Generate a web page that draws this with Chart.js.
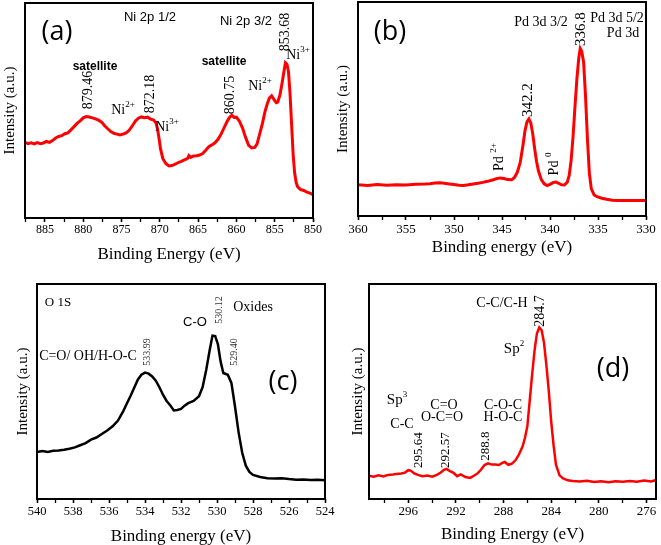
<!DOCTYPE html>
<html>
<head>
<meta charset="utf-8">
<script src="https://cdn.jsdelivr.net/npm/chart.js@4.4.0/dist/chart.umd.min.js"></script>
<style>
  body { margin: 0; background: #fff; }
  #fig { position: relative; width: 661px; height: 545px; overflow: hidden; }
  canvas { position: absolute; }
</style>
</head>
<body>
<div id="fig">
  <canvas id="pa" width="330" height="270" style="left:0;top:0"></canvas>
  <canvas id="pb" width="331" height="270" style="left:330px;top:0"></canvas>
  <canvas id="pc" width="345" height="275" style="left:0;top:270px"></canvas>
  <canvas id="pd" width="331" height="275" style="left:330px;top:270px"></canvas>
</div>
<script>
// (a) Ni 2p
const niEnergy = [887.6, 887.2, 886.8, 886.4, 886.0, 885.6, 885.2, 884.8, 884.4, 884.0, 883.6, 883.2, 882.8, 882.4, 882.0,
  881.6, 881.2, 880.8, 880.4, 880.0, 879.6, 879.2, 878.8, 878.4, 878.0, 877.6, 877.2, 876.8, 876.4, 876.0, 875.6, 875.2,
  874.8, 874.4, 874.0, 873.6, 873.2, 872.8, 872.4, 872.0, 871.6, 871.2, 870.8, 870.5, 870.3, 870.1, 869.9, 869.6, 869.2,
  868.8, 868.4, 868.0, 867.6, 867.2, 866.8, 866.4, 866.2, 866.0, 865.6, 865.2, 864.8, 864.4, 864.0, 863.6, 863.2, 862.8,
  862.4, 862.0, 861.6, 861.2, 860.9, 860.6, 860.3, 860.0, 859.6, 859.2, 858.8, 858.4, 858.0, 857.6, 857.3, 857.0, 856.6,
  856.3, 856.0, 855.7, 855.4, 855.1, 854.8, 854.6, 854.3, 854.0, 853.8, 853.6, 853.4, 853.2, 853.0, 852.8, 852.6, 852.4,
  852.2, 852.0, 851.6, 851.2, 850.8, 850.4, 850.0];
const niIntensity = [35.2, 34.6, 35.0, 34.5, 35.1, 34.6, 34.9, 35.6, 35.2, 36.0, 37.2, 37.9, 38.3, 39.2, 39.6,
  41.0, 42.5, 44.0, 45.2, 46.6, 47.2, 47.0, 46.6, 46.1, 45.5, 44.6, 42.9, 41.5, 40.2, 39.4, 39.0, 38.6,
  39.0, 39.6, 40.8, 42.8, 45.0, 46.4, 47.0, 46.6, 46.9, 46.0, 45.6, 44.2, 41.5, 37.0, 32.0, 27.6, 25.2,
  24.2, 24.4, 25.0, 25.8, 26.3, 27.0, 27.6, 29.0, 28.2, 28.8, 29.0, 29.3, 30.0, 31.5, 33.2, 34.0, 35.0,
  36.6, 39.0, 42.0, 45.0, 46.8, 47.8, 46.8, 46.9, 45.0, 41.8, 37.5, 33.8, 32.6, 32.8, 34.5, 38.5, 44.0,
  49.0, 52.8, 55.8, 56.8, 55.2, 53.6, 53.9, 57.5, 63.5, 68.0, 72.2, 71.5, 68.0, 58.0, 44.0, 30.0, 21.0,
  16.5, 14.5, 13.2, 12.8, 12.0, 11.6, 10.8];
const niTickLabels = [885, 880, 875, 870, 865, 860, 855, 850];

// (b) Pd 3d
const pdEnergy = [360.0, 359.0, 358.0, 357.0, 356.0, 355.0, 354.0, 353.0, 352.5, 352.0, 351.5, 351.0, 350.5, 350.0,
  349.5, 349.0, 348.5, 348.0, 347.5, 347.0, 346.5, 346.0, 345.6, 345.2, 344.8, 344.4, 344.0, 343.7, 343.4, 343.1,
  342.8, 342.6, 342.4, 342.2, 342.0, 341.8, 341.6, 341.4, 341.2, 340.9, 340.6, 340.3, 340.0, 339.7, 339.4, 339.1,
  338.8, 338.5, 338.2, 338.0, 337.8, 337.6, 337.4, 337.2, 337.0, 336.85, 336.7, 336.5, 336.3, 336.1, 335.9, 335.7,
  335.4, 335.1, 334.6, 334.1, 333.5, 333.0, 332.0, 331.0, 330.0];
const pdIntensity = [14.6, 14.3, 14.7, 14.4, 14.6, 14.5, 14.8, 14.9, 15.1, 15.4, 15.5, 15.3, 15.0, 14.7,
  14.4, 14.3, 14.6, 15.0, 15.3, 15.7, 16.2, 16.8, 17.4, 17.8, 17.5, 17.0, 16.9, 18.0, 20.5, 25.0,
  33.5, 40.0, 44.0, 45.3, 43.5, 38.5, 31.5, 25.5, 21.0, 17.0, 15.0, 14.2, 14.8, 15.6, 15.9, 15.3,
  14.6, 14.5, 15.8, 19.0, 26.0, 37.0, 51.0, 64.0, 74.0, 78.3, 77.0, 72.0, 56.0, 36.0, 20.0, 12.8,
  9.8, 9.0, 8.3, 7.8, 7.4, 7.2, 7.3, 7.2, 7.2];
const pdTickLabels = [360, 355, 350, 345, 340, 335, 330];

// (c) O 1s
const oEnergy = [540.0, 539.7, 539.4, 539.1, 538.8, 538.5, 538.2, 537.9, 537.6, 537.3, 537.0, 536.7, 536.4, 536.1,
  535.8, 535.5, 535.2, 535.0, 534.8, 534.6, 534.4, 534.2, 534.0, 533.8, 533.6, 533.4, 533.2, 533.0, 532.8, 532.6,
  532.4, 532.2, 532.0, 531.8, 531.6, 531.3, 531.0, 530.8, 530.6, 530.4, 530.25, 530.1, 529.95, 529.8, 529.65, 529.4,
  529.2, 529.0, 528.8, 528.6, 528.4, 528.2, 528.0, 527.6, 527.2, 526.8, 526.4, 526.0, 525.6, 525.2, 524.8, 524.4, 524.0];
const oIntensity = [21.8, 22.3, 21.9, 22.4, 22.6, 22.9, 23.4, 24.0, 25.0, 26.0, 27.6, 28.6, 30.2, 31.9,
  33.8, 36.5, 41.0, 44.5, 48.0, 51.8, 55.5, 57.8, 58.8, 58.3, 57.0, 55.0, 52.0, 48.5, 45.6, 43.6,
  41.2, 41.4, 41.9, 43.4, 44.6, 45.6, 47.8, 52.0, 60.0, 69.5, 76.0, 75.8, 72.0, 64.0, 58.6, 57.8,
  54.0, 43.0, 31.0, 21.5, 15.5, 12.6, 11.2, 10.2, 9.7, 9.5, 9.7, 9.3, 9.0, 9.1, 8.8, 9.0, 8.7];
const oTickLabels = [540, 538, 536, 534, 532, 530, 528, 526, 524];

// (d) C 1s
const cEnergy = [299.3, 298.9, 298.5, 298.1, 297.7, 297.3, 297.0, 296.6, 296.3, 296.0, 295.8, 295.5, 295.2, 294.8,
  294.4, 294.0, 293.6, 293.3, 293.0, 292.8, 292.5, 292.2, 291.9, 291.6, 291.2, 290.8, 290.5, 290.2, 289.9, 289.6,
  289.3, 289.0, 288.7, 288.4, 288.1, 287.9, 287.6, 287.3, 287.0, 286.7, 286.4, 286.2, 286.0, 285.8, 285.6, 285.4,
  285.2, 285.0, 284.8, 284.6, 284.4, 284.2, 284.0, 283.8, 283.6, 283.3, 283.0, 282.6, 282.2, 281.6, 281.0, 280.4,
  279.8, 279.2, 278.6, 278.0, 277.4, 276.8, 276.2, 275.6, 275.2];
const cIntensity = [10.8, 10.4, 11.0, 10.5, 11.2, 11.4, 11.6, 11.9, 12.2, 13.4, 13.2, 11.9, 11.2, 10.6,
  10.9, 10.4, 11.2, 12.2, 13.6, 14.0, 13.0, 12.2, 10.6, 11.4, 10.2, 9.8, 10.8, 11.8, 13.6, 15.8,
  16.6, 16.0, 16.0, 15.8, 16.8, 17.2, 15.9, 16.4, 18.0, 20.8, 24.5, 28.5, 34.0, 46.0, 58.0, 69.0,
  77.0, 79.8, 78.5, 72.5, 62.0, 50.0, 36.0, 25.0, 16.0, 11.0, 9.6, 8.7, 8.4, 8.1, 8.5, 7.9,
  8.2, 7.8, 8.3, 8.0, 8.4, 8.0, 8.6, 8.2, 8.8];
const cTickLabels = [296, 292, 288, 284, 280, 276];

const serif = '"Liberation Serif", "Times New Roman", serif';
const sans = '"Liberation Sans", Arial, sans-serif';
const big = '"Open Sans", "Noto Sans", sans-serif';

// text written as page coordinates; ^{..} is a superscript
function drawNote(ctx, n, x, y) {
  const parts = [];
  n.text.split(/(\^\{[^}]*\})/).forEach(p => {
    if (!p) return;
    if (p.startsWith('^{')) parts.push({ t: p.slice(2, -1), sup: true });
    else parts.push({ t: p, sup: false });
  });
  const w8 = n.weight || 'normal';
  const f1 = `${w8} ${n.size}px ${n.family}`;
  const f2 = `${w8} ${Math.round(n.size * 0.62)}px ${n.family}`;
  let w = 0;
  parts.forEach(p => { ctx.font = p.sup ? f2 : f1; p.w = ctx.measureText(p.t).width; w += p.w; });
  ctx.save();
  ctx.translate(x, y);
  if (n.rot) ctx.rotate(-Math.PI / 2);
  ctx.fillStyle = n.color || '#000';
  ctx.textBaseline = 'middle';
  ctx.textAlign = 'left';
  let cx = -w / 2;
  parts.forEach(p => {
    ctx.font = p.sup ? f2 : f1;
    ctx.fillText(p.t, cx, p.sup ? -n.size * 0.38 : 0);
    cx += p.w;
  });
  ctx.restore();
}

function frameNotes(notes, ox, oy) {
  return {
    id: 'frameNotes',
    afterDatasetsDraw(chart) {
      const { ctx, chartArea: a } = chart;
      ctx.save();
      ctx.strokeStyle = '#000';
      ctx.lineWidth = 2;
      ctx.strokeRect(a.left, a.top, a.right - a.left, a.bottom - a.top);
      notes.forEach(n => drawNote(ctx, n, n.x - ox, n.y - oy));
      ctx.restore();
    }
  };
}

function panel(p) {
  const isLabel = v => p.labels.some(l => Math.abs(l - v) < 1e-6);
  return new Chart(document.getElementById(p.id), {
    type: 'line',
    data: {
      datasets: [{
        data: p.energy.map((e, i) => ({ x: e, y: p.intensity[i] })),
        borderColor: p.color,
        borderWidth: p.lineWidth,
        pointRadius: 0,
        tension: 0,
        fill: false
      }]
    },
    options: {
      responsive: false,
      animation: false,
      plugins: { legend: { display: false }, tooltip: { enabled: false } },
      layout: { padding: { top: p.top, right: p.right, left: 0, bottom: 0 } },
      scales: {
        x: {
          type: 'linear',
          reverse: true,
          min: p.min,
          max: p.max,
          afterFit: s => { s.height = p.xh; },
          border: { display: false },
          grid: {
            drawOnChartArea: false,
            drawTicks: true,
            tickLength: 4,
            tickColor: '#000',
            tickWidth: c => isLabel(c.tick.value) ? 1.6 : 1.3
          },
          ticks: {
            stepSize: p.step,
            includeBounds: false,
            autoSkip: false,
            maxRotation: 0,
            padding: p.tickPad,
            color: '#000',
            font: { family: p.tickFamily, size: p.tickSize },
            callback: v => isLabel(v) ? String(Math.round(v)) : ''
          },
          title: {
            display: true,
            text: p.xTitle,
            color: '#000',
            font: { family: serif, size: 17, lineHeight: 1 },
            padding: { top: 0, bottom: p.xTitlePad }
          }
        },
        y: {
          min: 0,
          max: 100,
          afterFit: s => { s.width = p.left; },
          border: { display: false },
          grid: { display: false },
          ticks: { display: false },
          title: {
            display: true,
            text: 'Intensity (a.u.)',
            color: '#000',
            font: { family: serif, size: 15, lineHeight: 1 },
            padding: { top: p.yTitlePad, bottom: 0 }
          }
        }
      }
    },
    plugins: [frameNotes(p.notes, p.ox, p.oy)]
  });
}

panel({
  id: 'pa', ox: 0, oy: 0, energy: niEnergy, intensity: niIntensity, color: '#ff0000', lineWidth: 3,
  min: 850, max: 887.6, step: 2.5, labels: niTickLabels, tickFamily: serif, tickSize: 12, tickPad: 1,
  top: 3, right: 17, left: 25, xh: 52, xTitle: 'Binding Energy (eV)', xTitlePad: 6.5, yTitlePad: 2.5,
  notes: [
    { text: '(a)', x: 57, y: 32, size: 27, family: big },
    { text: 'Ni 2p 1/2', x: 150, y: 17, size: 13, family: sans },
    { text: 'Ni 2p 3/2', x: 246, y: 21, size: 13, family: sans },
    { text: 'satellite', x: 95, y: 67, size: 12, family: sans, weight: 'bold' },
    { text: 'satellite', x: 224, y: 62, size: 12, family: sans, weight: 'bold' },
    { text: '879.46', x: 88, y: 90, size: 14, family: serif, rot: true },
    { text: 'Ni^{2+}', x: 123, y: 110, size: 14, family: serif },
    { text: '872.18', x: 150, y: 94, size: 14, family: serif, rot: true },
    { text: 'Ni^{3+}', x: 167, y: 127, size: 14, family: serif },
    { text: '860.75', x: 230, y: 95, size: 14, family: serif, rot: true },
    { text: 'Ni^{2+}', x: 260, y: 86, size: 14, family: serif },
    { text: '853.68', x: 285, y: 32, size: 14, family: serif, rot: true },
    { text: 'Ni^{3+}', x: 298, y: 55, size: 14, family: serif }
  ]
});

panel({
  id: 'pb', ox: 330, oy: 0, energy: pdEnergy, intensity: pdIntensity, color: '#ff0000', lineWidth: 3,
  min: 330, max: 360, step: 2.5, labels: pdTickLabels, tickFamily: serif, tickSize: 13, tickPad: 2,
  top: 2, right: 15, left: 28, xh: 54, xTitle: 'Binding energy (eV)', xTitlePad: 13.5, yTitlePad: 5.5,
  notes: [
    { text: '(b)', x: 390, y: 32, size: 27, family: big },
    { text: 'Pd 3d 3/2', x: 541, y: 22, size: 14, family: serif },
    { text: 'Pd 3d 5/2', x: 617, y: 18, size: 14, family: serif },
    { text: 'Pd 3d', x: 623, y: 33, size: 14, family: serif },
    { text: '336.8', x: 581, y: 29, size: 15, family: serif, rot: true },
    { text: '342.2', x: 528, y: 100, size: 15, family: serif, rot: true },
    { text: 'Pd ^{2+}', x: 499, y: 157, size: 14, family: serif, rot: true },
    { text: 'Pd ^{0}', x: 554, y: 164, size: 14, family: serif, rot: true }
  ]
});

panel({
  id: 'pc', ox: 0, oy: 270, energy: oEnergy, intensity: oIntensity, color: '#000000', lineWidth: 2.5,
  min: 524, max: 540, step: 1, labels: oTickLabels, tickFamily: serif, tickSize: 12.5, tickPad: 1.5,
  top: 14, right: 20, left: 37, xh: 46, xTitle: 'Binding energy (eV)', xTitlePad: 0, yTitlePad: 15.5,
  notes: [
    { text: 'O 1S', x: 58, y: 303, size: 13, family: serif },
    { text: 'C-O', x: 195, y: 322, size: 13, family: sans },
    { text: '530.12', x: 219, y: 310, size: 10, family: serif, rot: true, color: '#333' },
    { text: 'Oxides', x: 253, y: 307, size: 14, family: serif },
    { text: '533.99', x: 147, y: 352, size: 10, family: serif, rot: true, color: '#333' },
    { text: '529.40', x: 234, y: 352, size: 10, family: serif, rot: true, color: '#333' },
    { text: 'C=O/ OH/H-O-C', x: 88, y: 356, size: 14, family: serif },
    { text: '(c)', x: 283, y: 382, size: 27, family: big }
  ]
});

panel({
  id: 'pd', ox: 330, oy: 270, energy: cEnergy, intensity: cIntensity, color: '#ff0000', lineWidth: 2.5,
  min: 275.2, max: 299.3, step: 2, labels: cTickLabels, tickFamily: serif, tickSize: 13, tickPad: 1.2,
  top: 14, right: 5, left: 39, xh: 46, xTitle: 'Binding Energy (eV)', xTitlePad: 1.5, yTitlePad: 20.5,
  notes: [
    { text: 'C-C/C-H', x: 502, y: 303, size: 14, family: serif },
    { text: '284.7', x: 540, y: 311, size: 14, family: serif, rot: true },
    { text: 'Sp^{2}', x: 514, y: 349, size: 15, family: serif },
    { text: '(d)', x: 613, y: 369, size: 27, family: big },
    { text: 'Sp^{3}', x: 397, y: 400, size: 15, family: serif },
    { text: 'C=O', x: 444, y: 405, size: 14, family: serif },
    { text: 'O-C=O', x: 442, y: 417, size: 14, family: serif },
    { text: 'C-O-C', x: 503, y: 405, size: 14, family: serif },
    { text: 'H-O-C', x: 503, y: 417, size: 14, family: serif },
    { text: 'C-C', x: 402, y: 424, size: 14, family: serif },
    { text: '295.64', x: 419, y: 450, size: 13, family: serif, rot: true },
    { text: '292.57', x: 446, y: 450, size: 13, family: serif, rot: true },
    { text: '288.8', x: 486, y: 446, size: 13, family: serif, rot: true }
  ]
});
</script>
</body>
</html>
